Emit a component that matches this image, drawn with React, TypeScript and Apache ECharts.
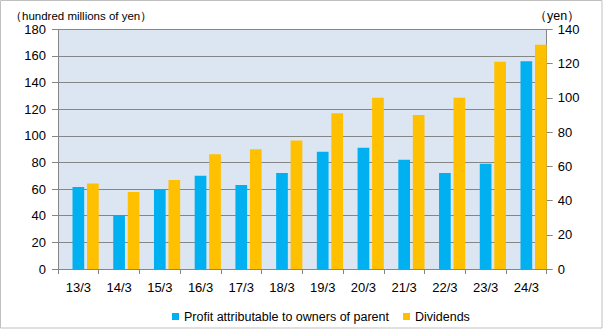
import React, { useEffect, useRef } from "react";
import * as echarts from "echarts";

const categories = ["13/3", "14/3", "15/3", "16/3", "17/3", "18/3", "19/3", "20/3", "21/3", "22/3", "23/3", "24/3"];
const profitValues = [61.5, 40.5, 60, 70, 63, 72, 88, 91, 82, 72, 79, 156];
const dividendValues = [50, 45, 52, 67, 70, 75, 91, 100, 90, 100, 121, 131];
const leftTicks = { min: 0, max: 180, interval: 20 };
const rightTicks = { min: 0, max: 140, interval: 20 };
const profitName = "Profit attributable to owners of parent";
const dividendName = "Dividends";
const leftUnit = "（hundred millions of yen）";
const rightUnit = "（yen）";

const FONT = "'Liberation Sans', Arial, sans-serif";

export default function App() {
  const ref = useRef<HTMLDivElement>(null);
  useEffect(() => {
    document.body.style.margin = "0";
    const chart = echarts.init(ref.current!, null, { renderer: "svg" });
    const barW = 11.7;
    chart.setOption({
      animation: false,
      backgroundColor: "#ffffff",
      textStyle: { fontFamily: FONT },
      graphic: [
        {
          type: "rect",
          shape: { x: 0.5, y: 0.5, width: 601.5, height: 327.5 },
          style: { fill: "none", stroke: "#c0c0c0", lineWidth: 1 },
          silent: true,
        },
        {
          type: "text",
          x: 10,
          y: 16,
          style: {
            text: leftUnit,
            fontSize: 11.5,
            fontFamily: FONT,
            fill: "#000000",
            textAlign: "left",
            textVerticalAlign: "middle",
          },
        },
        {
          type: "text",
          x: 534,
          y: 16,
          style: {
            text: rightUnit,
            fontSize: 12.5,
            fontFamily: FONT,
            fill: "#000000",
            textAlign: "left",
            textVerticalAlign: "middle",
          },
        },
      ],
      grid: {
        left: 58,
        right: 57.3,
        top: 29.3,
        bottom: 62,
        show: true,
        backgroundColor: "#dce6f2",
        borderWidth: 0,
      },
      legend: {
        data: [profitName, dividendName],
        top: 305,
        left: 167,
        icon: "rect",
        itemWidth: 7,
        itemHeight: 7,
        itemGap: 14,
        textStyle: { fontSize: 12.5, fontFamily: FONT, color: "#000000" },
      },
      xAxis: {
        type: "category",
        data: categories,
        axisLine: { lineStyle: { color: "#868686", width: 1 } },
        axisTick: { show: true, length: 5, interval: 0, alignWithLabel: false, lineStyle: { color: "#868686" } },
        axisLabel: { fontSize: 13, color: "#000000", margin: 12, fontFamily: FONT },
        splitLine: { show: false },
      },
      yAxis: [
        {
          type: "value",
          min: leftTicks.min,
          max: leftTicks.max,
          interval: leftTicks.interval,
          axisLine: { show: true, lineStyle: { color: "#868686" } },
          axisTick: { show: true, length: 6, lineStyle: { color: "#868686" } },
          axisLabel: { fontSize: 13, color: "#000000", margin: 12, fontFamily: FONT },
          splitLine: { show: true, lineStyle: { color: "#868686", width: 1 } },
        },
        {
          type: "value",
          position: "right",
          min: rightTicks.min,
          max: rightTicks.max,
          interval: rightTicks.interval,
          axisLine: { show: true, lineStyle: { color: "#868686" } },
          axisTick: { show: true, length: 6, lineStyle: { color: "#868686" } },
          axisLabel: { fontSize: 13, color: "#000000", margin: 11, fontFamily: FONT },
          splitLine: { show: false },
        },
      ],
      series: [
        {
          name: "_spacer",
          type: "bar",
          yAxisIndex: 0,
          barWidth: barW,
          barGap: "24%",
          data: categories.map(() => null),
          silent: true,
        },
        {
          name: profitName,
          type: "bar",
          yAxisIndex: 0,
          barWidth: barW,
          barGap: "24%",
          itemStyle: { color: "#00b0f0" },
          data: profitValues,
        },
        {
          name: dividendName,
          type: "bar",
          yAxisIndex: 1,
          barWidth: barW,
          barGap: "24%",
          itemStyle: { color: "#ffc000" },
          data: dividendValues,
        },
      ],
    });
    return () => chart.dispose();
  }, []);
  return <div ref={ref} style={{ width: 604, height: 331 }} />;
}
